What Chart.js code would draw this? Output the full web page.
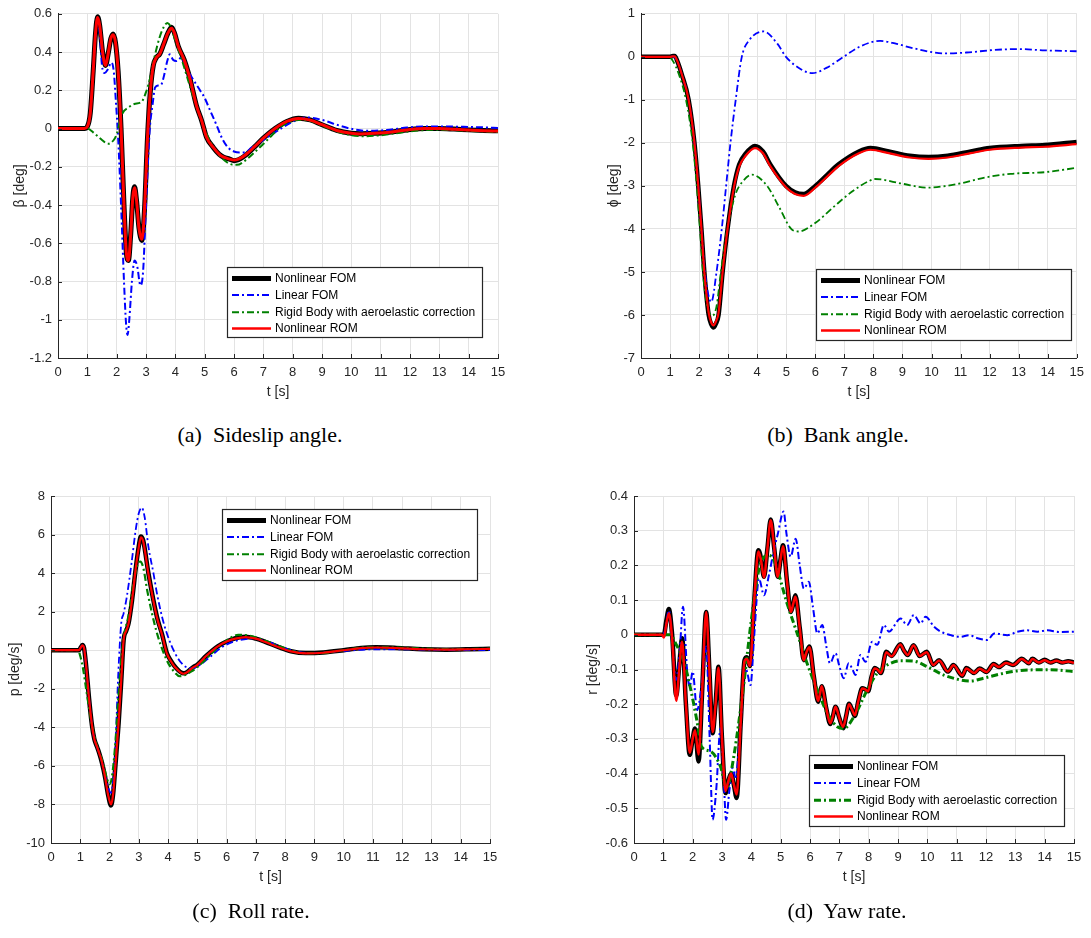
<!DOCTYPE html>
<html><head><meta charset="utf-8">
<script src="https://cdn.jsdelivr.net/npm/chart.js@4.4.1/dist/chart.umd.min.js"></script>
<style>
html,body{margin:0;padding:0;background:#fff;}
body{width:1091px;height:938px;position:relative;overflow:hidden;}
canvas{position:absolute;}
.cap{position:absolute;width:300px;text-align:center;font-family:"Liberation Serif","Times New Roman",serif;font-size:22px;line-height:26px;color:#000;white-space:pre;}
</style></head>
<body>
<canvas id="ca" width="530" height="410" style="left:0;top:0"></canvas>
<canvas id="cb" width="551" height="410" style="left:540px;top:0"></canvas>
<canvas id="cc" width="530" height="440" style="left:0;top:470px"></canvas>
<canvas id="cd" width="551" height="440" style="left:540px;top:470px"></canvas>
<div class="cap" style="left:110px;top:422px">(a)  Sideslip angle.</div>
<div class="cap" style="left:688px;top:422px">(b)  Bank angle.</div>
<div class="cap" style="left:101px;top:898px">(c)  Roll rate.</div>
<div class="cap" style="left:697px;top:898px">(d)  Yaw rate.</div>
<script>
// ---------- tick values / labels ----------
const xTicks = [0,1,2,3,4,5,6,7,8,9,10,11,12,13,14,15];
const xTickLabels = ['0','1','2','3','4','5','6','7','8','9','10','11','12','13','14','15'];
const yTicksA = [-1.2,-1,-0.8,-0.6,-0.4,-0.2,0,0.2,0.4,0.6];
const yLabelsA = ['-1.2','-1','-0.8','-0.6','-0.4','-0.2','0','0.2','0.4','0.6'];
const yTicksB = [-7,-6,-5,-4,-3,-2,-1,0,1];
const yLabelsB = ['-7','-6','-5','-4','-3','-2','-1','0','1'];
const yTicksC = [-10,-8,-6,-4,-2,0,2,4,6,8];
const yLabelsC = ['-10','-8','-6','-4','-2','0','2','4','6','8'];
const yTicksD = [-0.6,-0.5,-0.4,-0.3,-0.2,-0.1,0,0.1,0.2,0.3,0.4];
const yLabelsD = ['-0.6','-0.5','-0.4','-0.3','-0.2','-0.1','0','0.1','0.2','0.3','0.4'];

const seriesNames = ['Nonlinear FOM','Linear FOM','Rigid Body with aeroelastic correction','Nonlinear ROM'];

// ---------- (a) sideslip angle beta [deg] ----------
const tA_fom = [0,0.9,1.0,1.1,1.2,1.28,1.35,1.42,1.52,1.62,1.72,1.8,1.88,1.96,2.05,2.15,2.25,2.33,2.4,2.48,2.55,2.61,2.68,2.76,2.86,2.95,3.05,3.15,3.25,3.35,3.47,3.6,3.75,3.87,3.97,4.1,4.3,4.5,4.72,4.9,5.06,5.3,5.5,5.65,5.85,6.0,6.15,6.4,6.7,7.0,7.4,7.8,8.2,8.6,9.0,9.5,10.0,10.3,10.8,11.5,12.0,12.5,13.0,13.5,14.0,14.5,15];
const betaFom = [0,0,0.01,0.08,0.3,0.5,0.585,0.54,0.4,0.33,0.4,0.47,0.495,0.45,0.3,0.0,-0.4,-0.65,-0.69,-0.55,-0.36,-0.305,-0.38,-0.52,-0.585,-0.42,-0.05,0.2,0.33,0.37,0.39,0.44,0.5,0.53,0.5,0.43,0.36,0.26,0.12,0.04,-0.044,-0.1,-0.135,-0.15,-0.16,-0.168,-0.163,-0.139,-0.096,-0.05,0.0,0.037,0.054,0.045,0.02,-0.01,-0.025,-0.027,-0.025,-0.015,-0.005,0.0,0.0,-0.003,-0.007,-0.01,-0.012];
const betaRom = [0,0,0.01,0.08,0.3,0.5,0.58,0.54,0.4,0.33,0.4,0.47,0.49,0.45,0.3,0.0,-0.4,-0.65,-0.69,-0.55,-0.36,-0.31,-0.38,-0.52,-0.58,-0.42,-0.05,0.2,0.33,0.37,0.39,0.44,0.5,0.525,0.5,0.43,0.36,0.26,0.12,0.04,-0.044,-0.1,-0.135,-0.15,-0.16,-0.165,-0.16,-0.137,-0.095,-0.05,0.0,0.037,0.052,0.044,0.02,-0.01,-0.025,-0.028,-0.025,-0.015,-0.005,0.0,0.0,-0.004,-0.008,-0.011,-0.013];
const tA_lin = [0,0.9,1.0,1.1,1.2,1.28,1.35,1.42,1.5,1.59,1.7,1.82,1.9,1.97,2.05,2.15,2.25,2.32,2.37,2.43,2.52,2.61,2.7,2.81,2.9,3.0,3.13,3.22,3.31,3.42,3.52,3.62,3.72,3.81,3.92,4.04,4.2,4.4,4.6,4.83,5.0,5.17,5.4,5.6,5.8,6.0,6.2,6.37,6.6,6.9,7.2,7.6,8.0,8.47,9.0,9.5,9.95,10.52,11.2,11.9,12.43,13.0,13.5,14.0,14.5,15];
const betaLin = [0,0,0.01,0.08,0.3,0.48,0.58,0.5,0.33,0.29,0.31,0.345,0.3,0.15,-0.05,-0.4,-0.8,-1.02,-1.08,-1.0,-0.8,-0.69,-0.72,-0.82,-0.75,-0.4,0.0,0.12,0.215,0.225,0.23,0.28,0.35,0.388,0.36,0.353,0.37,0.31,0.258,0.203,0.16,0.1,0.02,-0.053,-0.1,-0.12,-0.125,-0.125,-0.1,-0.07,-0.04,0.0,0.035,0.058,0.045,0.02,0.0,-0.012,-0.008,0.005,0.01,0.01,0.01,0.008,0.006,0.003];
const tA_rig = [0,1.0,1.2,1.5,1.7,1.9,2.0,2.1,2.2,2.4,2.6,2.85,3.0,3.15,3.3,3.45,3.6,3.73,3.85,4.0,4.2,4.5,4.8,5.1,5.4,5.7,6.0,6.1,6.4,6.8,7.2,7.6,8.0,8.2,8.6,9.0,9.5,10.0,10.5,11.0,11.5,12.0,12.5,13.0,13.5,14.0,14.5,15];
const betaRig = [0,0,-0.02,-0.06,-0.08,-0.06,-0.03,0.03,0.08,0.11,0.128,0.14,0.19,0.27,0.38,0.47,0.53,0.552,0.53,0.46,0.37,0.22,0.08,-0.04,-0.12,-0.17,-0.19,-0.19,-0.165,-0.11,-0.05,0.01,0.04,0.045,0.04,0.015,-0.015,-0.035,-0.04,-0.035,-0.025,-0.015,-0.008,-0.006,-0.008,-0.012,-0.015,-0.018];

// ---------- (b) bank angle phi [deg] ----------
const tB_fom = [0,1.0,1.1,1.16,1.25,1.4,1.64,1.84,1.97,2.08,2.18,2.33,2.42,2.5,2.58,2.67,2.81,2.98,3.2,3.38,3.6,3.92,4.2,4.45,4.99,5.3,5.6,6.0,6.4,6.8,7.5,7.9,8.53,9.25,9.9,10.56,11.35,12.0,13.08,13.9,15];
const phiFom = [0,0,0.02,0.02,-0.1,-0.4,-1,-2,-3,-4,-5,-6,-6.22,-6.29,-6.2,-6,-5,-4,-3,-2.5,-2.25,-2.07,-2.2,-2.5,-3.0,-3.15,-3.19,-3.0,-2.75,-2.5,-2.2,-2.12,-2.2,-2.3,-2.33,-2.3,-2.2,-2.12,-2.07,-2.05,-1.98];
const phiRom = [0,0,0.01,0.01,-0.1,-0.4,-1,-2,-3,-4,-5,-5.95,-6.18,-6.24,-6.15,-5.95,-5,-4,-3.03,-2.55,-2.3,-2.12,-2.24,-2.54,-3.03,-3.19,-3.23,-3.04,-2.79,-2.54,-2.24,-2.16,-2.24,-2.34,-2.37,-2.34,-2.24,-2.16,-2.11,-2.09,-2.03];
const tB_lin = [0,1.0,1.1,1.25,1.4,1.64,1.84,1.97,2.08,2.2,2.42,2.6,2.78,2.93,3.08,3.26,3.47,3.74,4.22,4.7,4.99,5.53,5.9,6.4,6.97,7.57,8.23,8.8,9.37,10.1,10.45,11.2,12.16,13.0,13.9,15];
const phiLin = [0,0,0.01,-0.1,-0.4,-1,-2,-3,-4,-5,-5.7,-5,-4,-3,-2,-1,0,0.4,0.59,0.3,0,-0.3,-0.38,-0.25,0,0.25,0.37,0.3,0.2,0.1,0.08,0.1,0.16,0.18,0.15,0.13];
const tB_rig = [0,0.95,1.1,1.3,1.55,1.78,1.92,2.03,2.13,2.28,2.45,2.6,2.75,2.97,3.25,3.5,3.82,4.34,4.76,5.17,5.42,6.02,6.61,7.33,7.87,8.05,9.0,9.85,10.93,11.88,12.72,13.92,15];
const phiRig = [0,0,-0.1,-0.4,-1,-2,-3,-4,-5,-5.8,-6.02,-5.8,-5,-4,-3.2,-2.9,-2.74,-3.0,-3.5,-4.0,-4.06,-3.85,-3.5,-3.1,-2.88,-2.84,-2.95,-3.04,-2.95,-2.8,-2.72,-2.68,-2.58];

// ---------- (c) roll rate p [deg/s] ----------
const tC_fom = [0,0.95,1.02,1.07,1.13,1.2,1.3,1.4,1.48,1.57,1.66,1.74,1.85,1.95,2.05,2.12,2.2,2.31,2.4,2.48,2.57,2.65,2.77,2.9,3.0,3.07,3.15,3.33,3.62,3.8,3.96,4.1,4.24,4.53,4.87,5.0,5.3,5.7,6.0,6.3,6.64,7.0,7.3,7.8,8.2,8.7,9.3,10.0,10.6,11.1,11.8,12.7,13.5,14.3,15];
const pFom = [0,0,0.15,0.27,0.1,-0.8,-2.5,-3.9,-4.6,-5.0,-5.4,-5.83,-6.6,-7.5,-8.05,-7.5,-6,-3.79,-1.6,0.5,1.0,1.39,2.6,4.3,5.4,5.9,5.7,3.98,1.73,0.8,-0.16,-0.55,-0.86,-1.2,-0.86,-0.75,-0.3,0.2,0.45,0.62,0.7,0.6,0.45,0.15,-0.05,-0.15,-0.12,0.0,0.12,0.15,0.12,0.05,0.03,0.05,0.08];
const pRom = [0,0,0.15,0.25,0.1,-0.8,-2.5,-3.9,-4.6,-5.0,-5.4,-5.8,-6.6,-7.5,-8.0,-7.5,-6,-3.75,-1.55,0.5,1.0,1.39,2.6,4.3,5.35,5.85,5.65,3.95,1.7,0.78,-0.18,-0.57,-0.88,-1.22,-0.88,-0.76,-0.3,0.2,0.45,0.6,0.68,0.6,0.44,0.14,-0.06,-0.16,-0.13,0.0,0.11,0.14,0.11,0.05,0.03,0.05,0.07];
const tC_lin = [0,0.95,1.02,1.07,1.13,1.2,1.3,1.4,1.48,1.57,1.66,1.74,1.85,1.95,2.05,2.12,2.2,2.3,2.4,2.48,2.59,2.75,2.9,3.0,3.1,3.2,3.33,3.5,3.62,3.8,3.96,4.24,4.52,4.8,5.08,5.44,5.78,6.23,6.9,7.3,8.0,8.5,9.0,9.5,10.2,11,12,13,14,15];
const pLin = [0,0,0.15,0.25,0.1,-0.8,-2.5,-3.9,-4.6,-5.0,-5.4,-5.8,-6.5,-7.1,-7.4,-6.8,-5.0,-1.2,1.4,1.9,2.77,4.5,6.3,7.1,7.4,6.9,5.36,4.0,2.95,1.7,0.87,-0.16,-0.77,-0.94,-0.77,-0.34,0.1,0.44,0.6,0.5,0.1,-0.1,-0.15,-0.1,-0.02,0.05,0.05,0.02,0.0,0.0];
const tC_rig = [0,0.92,1.0,1.1,1.2,1.3,1.4,1.5,1.6,1.7,1.8,1.9,2.0,2.08,2.2,2.3,2.4,2.5,2.65,2.8,2.95,3.05,3.15,3.3,3.6,3.95,4.2,4.4,4.8,5.2,5.6,6.0,6.4,6.8,7.3,8.0,8.6,9.2,10,10.8,11.5,12.5,13.5,15];
const pRig = [0,0,-0.3,-1.0,-2.0,-3.0,-3.9,-4.6,-5.1,-5.5,-6.0,-6.6,-6.95,-6.6,-4.8,-2.5,-0.5,0.8,1.8,3.3,4.4,4.6,4.3,3.0,1.0,-0.5,-1.1,-1.35,-1.1,-0.6,0.0,0.5,0.8,0.75,0.5,0.1,-0.15,-0.15,0,0.15,0.15,0.1,0.05,0.08];

// ---------- (d) yaw rate r [deg/s] ----------
const tD_fom = [0,0.95,1.02,1.1,1.19,1.3,1.44,1.55,1.64,1.77,1.9,2.0,2.08,2.2,2.33,2.46,2.57,2.68,2.78,2.88,3.0,3.12,3.22,3.31,3.4,3.5,3.64,3.77,3.85,3.95,4.1,4.24,4.33,4.43,4.55,4.66,4.78,4.9,5.0,5.08,5.22,5.35,5.43,5.5,5.65,5.79,5.88,5.98,6.13,6.28,6.34,6.4,6.55,6.69,6.78,6.87,7.0,7.13,7.23,7.33,7.43,7.53,7.65,7.78,7.88,7.98,8.1,8.2,8.3,8.42,8.6,8.78,9.08,9.2,9.33,9.53,9.74,9.98,10.2,10.4,10.7,10.89,11.19,11.33,11.6,11.78,12.02,12.26,12.44,12.68,12.92,13.22,13.46,13.58,13.8,14.0,14.2,14.4,14.6,14.8,15];
const rFom = [0,0,0.0,0.04,0.074,0.0,-0.175,-0.08,-0.01,-0.2,-0.346,-0.3,-0.27,-0.365,-0.15,0.066,-0.1,-0.284,-0.2,-0.092,-0.3,-0.456,-0.42,-0.4,-0.43,-0.47,-0.25,-0.073,-0.065,-0.09,0.1,0.244,0.22,0.167,0.25,0.332,0.25,0.167,0.22,0.258,0.15,0.066,0.09,0.114,0.02,-0.073,-0.05,-0.034,-0.12,-0.193,-0.17,-0.148,-0.21,-0.257,-0.235,-0.207,-0.24,-0.269,-0.235,-0.199,-0.215,-0.234,-0.19,-0.154,-0.157,-0.163,-0.12,-0.096,-0.1,-0.11,-0.049,-0.061,-0.027,-0.045,-0.058,-0.03,-0.061,-0.049,-0.087,-0.073,-0.106,-0.087,-0.118,-0.096,-0.11,-0.097,-0.107,-0.084,-0.093,-0.08,-0.087,-0.069,-0.082,-0.069,-0.08,-0.072,-0.08,-0.074,-0.08,-0.076,-0.08];
const rRom = [0,0,-0.008,0.03,0.062,-0.01,-0.19,-0.09,-0.02,-0.2,-0.34,-0.3,-0.275,-0.345,-0.15,0.066,-0.1,-0.28,-0.2,-0.095,-0.3,-0.45,-0.42,-0.4,-0.43,-0.46,-0.25,-0.075,-0.07,-0.09,0.1,0.24,0.215,0.165,0.25,0.33,0.25,0.167,0.22,0.255,0.15,0.066,0.09,0.11,0.02,-0.073,-0.05,-0.036,-0.12,-0.19,-0.17,-0.148,-0.21,-0.255,-0.235,-0.207,-0.24,-0.265,-0.235,-0.2,-0.215,-0.232,-0.19,-0.155,-0.157,-0.163,-0.12,-0.097,-0.1,-0.11,-0.05,-0.062,-0.028,-0.045,-0.058,-0.031,-0.061,-0.05,-0.087,-0.074,-0.106,-0.088,-0.117,-0.097,-0.11,-0.098,-0.107,-0.085,-0.093,-0.081,-0.087,-0.07,-0.082,-0.07,-0.08,-0.073,-0.08,-0.075,-0.08,-0.077,-0.081];
const tD_lin = [0,0.95,1.05,1.19,1.3,1.43,1.55,1.67,1.81,1.9,2.0,2.15,2.3,2.46,2.58,2.68,2.8,2.95,3.05,3.14,3.25,3.36,3.46,3.6,3.75,3.82,3.97,4.1,4.26,4.43,4.6,4.77,4.9,5.1,5.2,5.34,5.51,5.65,5.79,5.96,6.1,6.25,6.42,6.55,6.68,6.87,7.0,7.15,7.32,7.45,7.55,7.72,7.89,8.12,8.29,8.52,8.69,9.09,9.31,9.54,9.77,9.94,10.23,10.46,10.8,11.13,11.42,11.71,12.05,12.28,12.73,13.07,13.41,13.75,14.1,14.5,15];
const rLin = [0,0,0.01,0.07,-0.02,-0.13,-0.06,0.081,-0.101,-0.149,-0.106,-0.217,-0.15,-0.034,-0.3,-0.533,-0.45,-0.269,-0.4,-0.533,-0.45,-0.384,-0.41,-0.3,-0.12,-0.1,-0.145,0.0,0.162,0.114,0.172,0.244,0.29,0.355,0.29,0.225,0.277,0.2,0.133,0.153,0.08,0.004,0.028,-0.03,-0.082,-0.053,-0.09,-0.125,-0.082,-0.1,-0.116,-0.058,-0.078,-0.02,-0.029,0.028,0.009,0.047,0.028,0.057,0.033,0.052,0.023,0.009,-0.001,-0.006,-0.001,-0.01,-0.015,0.004,-0.001,0.009,0.013,0.009,0.013,0.008,0.009];
const tD_rig = [0,1.0,1.24,1.42,1.71,1.94,2.15,2.3,2.61,2.95,3.16,3.3,3.69,4.03,4.31,4.6,4.77,5.22,5.68,5.9,6.25,6.59,6.93,7.15,7.5,7.95,8.29,8.63,9.09,9.54,10.0,10.56,11.13,11.47,11.92,12.49,13.06,13.63,14.2,15];
const rRig = [0,0,0.0,-0.025,-0.08,-0.16,-0.25,-0.322,-0.336,-0.38,-0.44,-0.4,-0.178,0.062,0.205,0.229,0.215,0.09,-0.025,-0.082,-0.159,-0.226,-0.265,-0.27,-0.236,-0.159,-0.111,-0.087,-0.075,-0.076,-0.092,-0.116,-0.13,-0.133,-0.125,-0.113,-0.104,-0.101,-0.101,-0.106];

// ---------- helpers ----------
const FONT = '"Liberation Sans", Arial, Helvetica, sans-serif';
const AXC = '#262626';
const GRIDC = '#e3e3e3';
function pts(t, v, name){
  if (t.length !== v.length) throw new Error(name + ': ' + t.length + ' vs ' + v.length);
  return t.map((x,i)=>({x:x, y:v[i]}));
}
const inwardTicks = {
  id:'inwardTicks',
  afterDatasetsDraw(chart){
    const {ctx, chartArea:a, scales:{x,y}} = chart;
    ctx.save(); ctx.strokeStyle = AXC; ctx.lineWidth = 1; ctx.beginPath();
    x.ticks.forEach(t=>{const px=Math.round(x.getPixelForValue(t.value))+0.5; ctx.moveTo(px,a.bottom); ctx.lineTo(px,a.bottom-4);});
    y.ticks.forEach(t=>{const py=Math.round(y.getPixelForValue(t.value))+0.5; ctx.moveTo(a.left,py); ctx.lineTo(a.left+4,py);});
    ctx.stroke(); ctx.restore();
  }
};
const mlLegend = {
  id:'mlLegend',
  afterDraw(chart, args, o){
    const ctx = chart.ctx; ctx.save();
    ctx.fillStyle = '#fff'; ctx.fillRect(o.x, o.y, o.w, o.h);
    ctx.strokeStyle = AXC; ctx.lineWidth = 1.2; ctx.strokeRect(o.x+0.5, o.y+0.5, o.w, o.h);
    chart.data.datasets.forEach((d,i)=>{
      const yy = o.y + o.rows[i];
      ctx.beginPath(); ctx.strokeStyle = d.borderColor; ctx.lineWidth = d.legendWidth || d.borderWidth;
      ctx.setLineDash(d.borderDash || []); ctx.lineCap = 'butt';
      ctx.moveTo(o.x + o.l0, yy); ctx.lineTo(o.x + o.l1, yy); ctx.stroke();
      ctx.setLineDash([]);
      ctx.fillStyle = '#000'; ctx.font = '12px ' + FONT; ctx.textBaseline = 'middle'; ctx.textAlign = 'left';
      ctx.fillText(d.label, o.x + o.tx, yy + 0.5);
    });
    ctx.restore();
  }
};
const DASH = [7,3,2,3];
function ds(label, data, color, width, dash, order, legendWidth){
  return {label, data, borderColor:color, backgroundColor:color, borderWidth:width, borderDash:dash,
          order, legendWidth, fill:false, pointRadius:0, cubicInterpolationMode:'monotone', borderJoinStyle:'round'};
}
function build(id, s){
  return new Chart(document.getElementById(id), {
    type:'line',
    data:{datasets:[
      ds(seriesNames[0], s.fom, '#000000', s.w[0], [], 4, s.lw[0]),
      ds(seriesNames[1], s.lin, '#0000ff', s.w[1], DASH, 3, s.lw[1]),
      ds(seriesNames[2], s.rig, '#008000', s.w[2], DASH, 2, s.lw[2]),
      ds(seriesNames[3], s.rom, '#ff0000', s.w[3], [], 1, s.lw[3])
    ]},
    options:{
      responsive:false, animation:false, events:[],
      layout:{padding:{top:s.top, right:s.right, left:0, bottom:0}},
      plugins:{legend:{display:false}, tooltip:{enabled:false}, mlLegend:s.legend},
      scales:{
        x:{type:'linear', min:0, max:15,
           afterBuildTicks(sc){ sc.ticks = xTicks.map(v=>({value:v})); },
           afterFit(sc){ sc.height = s.xh; },
           ticks:{autoSkip:false, maxRotation:0, padding:7, color:AXC, font:{family:FONT, size:13},
                  callback:(v,i)=>xTickLabels[i]},
           grid:{color:GRIDC, lineWidth:1, drawTicks:false},
           border:{display:true, color:AXC, width:1},
           title:{display:true, text:'t [s]', color:AXC, font:{family:FONT, size:14}, padding:{top:0, bottom:s.xtb}}},
        y:{type:'linear', min:s.yt[0], max:s.yt[s.yt.length-1],
           afterBuildTicks(sc){ sc.ticks = s.yt.map(v=>({value:v})); },
           afterFit(sc){ sc.width = s.yw; },
           ticks:{autoSkip:false, padding:6, color:AXC, font:{family:FONT, size:13},
                  callback:(v,i)=>s.yl[i]},
           grid:{color:GRIDC, lineWidth:1, drawTicks:false},
           border:{display:true, color:AXC, width:1},
           title:{display:true, text:s.ytitle, color:AXC, font:{family:FONT, size:14, style:s.yts||'normal'}, padding:{top:s.ytp, bottom:0}}}
      }
    },
    plugins:[inwardTicks, mlLegend]
  });
}
const LROWS = [11.5, 28, 45.3, 61.5];

build('ca', {
  fom:pts(tA_fom, betaFom,'aF'), lin:pts(tA_lin, betaLin,'aL'), rig:pts(tA_rig, betaRig,'aR'), rom:pts(tA_fom, betaRom,'aM'),
  w:[5,2,2,3], lw:[5,2,2,2.5], top:11, right:32, xh:52, yw:58, xtb:9, ytp:12,
  yt:yTicksA, yl:yLabelsA, ytitle:'β [deg]',
  legend:{x:227, y:267, w:255, h:70, rows:LROWS, l0:5, l1:44, tx:48}
});
build('cb', {
  fom:pts(tB_fom, phiFom,'bF'), lin:pts(tB_lin, phiLin,'bL'), rig:pts(tB_rig, phiRig,'bR'), rom:pts(tB_fom, phiRom,'bM'),
  w:[4.5,1.8,1.8,2.2], lw:[5,2,2,2.5], top:11, right:10, xh:52, yw:101, xtb:9, ytp:66,
  yt:yTicksB, yl:yLabelsB, ytitle:'ϕ [deg]',
  legend:{x:276, y:269, w:255, h:71, rows:LROWS, l0:5, l1:44, tx:48}
});
build('cc', {
  fom:pts(tC_fom, pFom,'cF'), lin:pts(tC_lin, pLin,'cL'), rig:pts(tC_rig, pRig,'cR'), rom:pts(tC_fom, pRom,'cM'),
  w:[4.5,1.8,2.2,2.2], lw:[5,2,2,2.5], top:26, right:40, xh:67, yw:51, xtb:24, ytp:7,
  yt:yTicksC, yl:yLabelsC, ytitle:'p [deg/s]',
  legend:{x:222, y:39, w:255, h:71, rows:LROWS, l0:5, l1:44, tx:48}
});
build('cd', {
  fom:pts(tD_fom, rFom,'dF'), lin:pts(tD_lin, rLin,'dL'), rig:pts(tD_rig, rRig,'dR'), rom:pts(tD_fom, rRom,'dM'),
  w:[4.5,2,3,2.5], lw:[5,2,3,2.5], top:26, right:17, xh:67, yw:94, xtb:24, ytp:45,
  yt:yTicksD, yl:yLabelsD, ytitle:'r [deg/s]',
  legend:{x:269, y:285, w:255, h:71, rows:LROWS, l0:5, l1:44, tx:48}
});
</script>
</body></html>
